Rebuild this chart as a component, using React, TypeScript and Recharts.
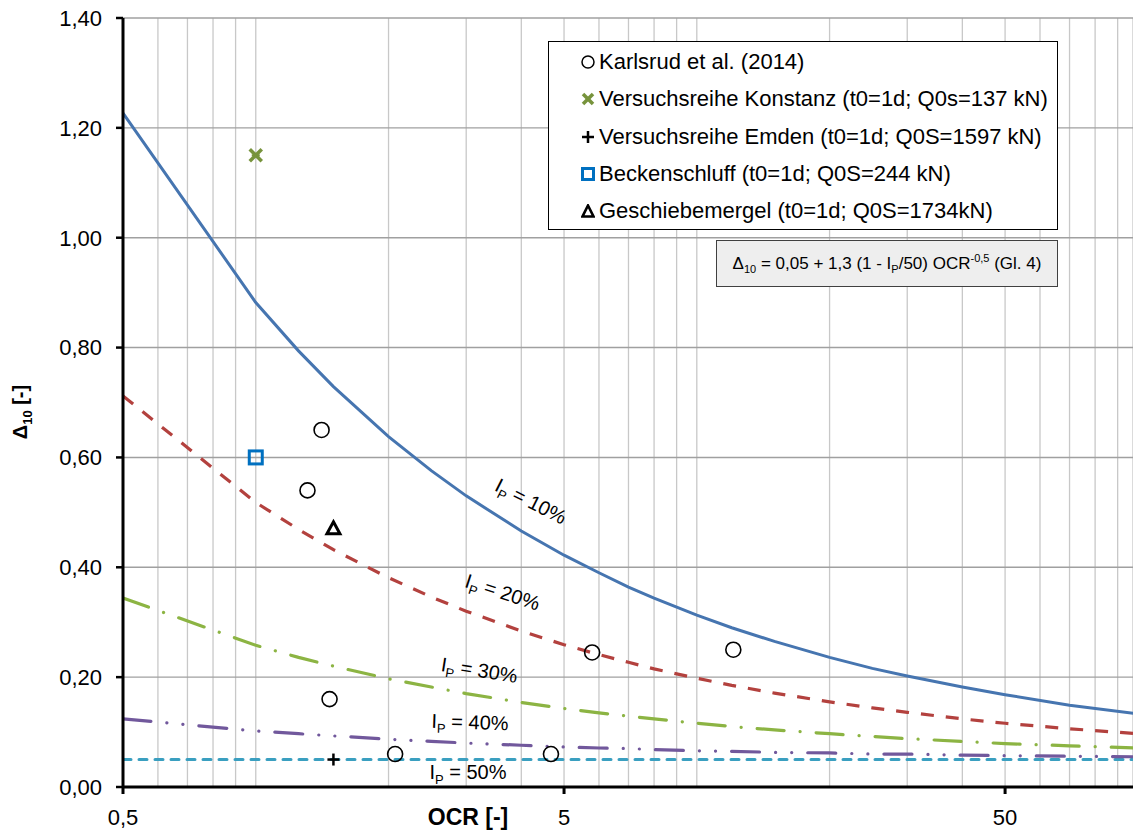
import React from "react";
import {
  ComposedChart, Line, Scatter, XAxis, YAxis, CartesianGrid,
} from "recharts";

// OCR grid points used for the model curves
const ocrPoints = [0.5, 1, 1.25, 1.5, 2, 2.5, 3, 4, 5, 6, 7, 8, 10, 12, 15, 20, 25, 30, 40, 50, 70, 100];

// Δ10, one list per plasticity index
const ip10 = [1.227, 0.882, 0.794, 0.729, 0.638, 0.576, 0.530, 0.466, 0.422, 0.390, 0.364, 0.344, 0.313, 0.290, 0.265, 0.236, 0.216, 0.202, 0.182, 0.168, 0.149, 0.133];
const ip20 = [0.712, 0.518, 0.469, 0.432, 0.381, 0.346, 0.320, 0.284, 0.259, 0.241, 0.227, 0.215, 0.198, 0.185, 0.171, 0.155, 0.144, 0.136, 0.124, 0.116, 0.106, 0.097];
const ip30 = [0.344, 0.258, 0.236, 0.220, 0.197, 0.182, 0.170, 0.154, 0.143, 0.135, 0.129, 0.124, 0.116, 0.110, 0.104, 0.097, 0.092, 0.088, 0.083, 0.079, 0.075, 0.071];
const ip40 = [0.124, 0.102, 0.097, 0.093, 0.087, 0.083, 0.080, 0.076, 0.073, 0.071, 0.070, 0.068, 0.066, 0.065, 0.063, 0.062, 0.060, 0.060, 0.058, 0.057, 0.056, 0.055];
const ip50 = [0.05, 0.05, 0.05, 0.05, 0.05, 0.05, 0.05, 0.05, 0.05, 0.05, 0.05, 0.05, 0.05, 0.05, 0.05, 0.05, 0.05, 0.05, 0.05, 0.05, 0.05, 0.05];

// measured points
const karlsrudOcr = [1.41, 1.31, 1.47, 2.07, 4.67, 5.79, 12.1];
const karlsrudVal = [0.65, 0.54, 0.16, 0.06, 0.06, 0.245, 0.25];
const konstanzOcr = [1.0];
const konstanzVal = [1.15];
const emdenOcr = [1.5];
const emdenVal = [0.05];
const beckenOcr = [1.0];
const beckenVal = [0.6];
const geschiebeOcr = [1.5];
const geschiebeVal = [0.47];

const yTicks = [0, 0.2, 0.4, 0.6, 0.8, 1.0, 1.2, 1.4];
const majorX = [0.5, 5, 50];
const xTicks = [
  0.5, 0.6, 0.7, 0.8, 0.9, 1, 2, 3, 4, 5, 6, 7, 8, 9, 10,
  20, 30, 40, 50, 60, 70, 80, 90,
];

const toRows = (xs: number[], ys: number[]) => xs.map((x, i) => ({ x, y: ys[i] }));

const FONT = "'Liberation Sans', Arial, sans-serif";

// only the decades get a tick mark and a label
const XTick = (props: any) => {
  const { x, y, payload } = props;
  if (!majorX.includes(payload.value)) return null;
  return (
    <g>
      <line x1={x} x2={x} y1={y - 16} y2={y - 9} stroke="#000" strokeWidth={3} />
      <text x={x} y={y + 22} textAnchor="middle" fontSize={22} fontFamily={FONT} fill="#000">
        {String(payload.value).replace(".", ",")}
      </text>
    </g>
  );
};

const circleShape = (p: any) => (
  <circle cx={p.cx} cy={p.cy} r={7.5} fill="none" stroke="#000" strokeWidth={1.6} />
);
const crossShape = (p: any) => (
  <g stroke="#77933c" strokeWidth={3.5}>
    <line x1={p.cx - 6} y1={p.cy - 6} x2={p.cx + 6} y2={p.cy + 6} />
    <line x1={p.cx - 6} y1={p.cy + 6} x2={p.cx + 6} y2={p.cy - 6} />
    <line x1={p.cx - 4} y1={p.cy} x2={p.cx + 4} y2={p.cy} strokeWidth={2} />
  </g>
);
const plusShape = (p: any) => (
  <g stroke="#000" strokeWidth={2.5}>
    <line x1={p.cx - 6} y1={p.cy} x2={p.cx + 6} y2={p.cy} />
    <line x1={p.cx} y1={p.cy - 6} x2={p.cx} y2={p.cy + 6} />
  </g>
);
const squareShape = (p: any) => (
  <rect x={p.cx - 6.5} y={p.cy - 6.5} width={13} height={13} fill="none" stroke="#0070c0" strokeWidth={3} />
);
const triangleShape = (p: any) => (
  <path d={`M${p.cx},${p.cy - 7} L${p.cx + 6.5},${p.cy + 5} L${p.cx - 6.5},${p.cy + 5} Z`} fill="none" stroke="#000" strokeWidth={3} />
);

const IpLabel = ({ left, top, rot, pct }: { left: number; top: number; rot: number; pct: string }) => (
  <div style={{
    position: "absolute", left, top, transform: `translate(-50%, -50%) rotate(${rot}deg)`,
    fontFamily: FONT, fontSize: 20, color: "#000", whiteSpace: "nowrap", lineHeight: 1,
  }}>
    I<sub style={{ fontSize: 13 }}>P</sub> = {pct}
  </div>
);

const legendRows = [
  { label: "Karlsrud et al. (2014)", mark: <svg width={14} height={14}><circle cx={7} cy={7} r={6} fill="none" stroke="#000" strokeWidth={1.5} /></svg> },
  { label: "Versuchsreihe Konstanz (t0=1d; Q0s=137 kN)", mark: <svg width={14} height={14}><g stroke="#77933c" strokeWidth={3.5}><line x1={2} y1={2} x2={12} y2={12} /><line x1={2} y1={12} x2={12} y2={2} /></g></svg> },
  { label: "Versuchsreihe Emden (t0=1d; Q0S=1597 kN)", mark: <svg width={14} height={14}><g stroke="#000" strokeWidth={2.5}><line x1={1} y1={7} x2={13} y2={7} /><line x1={7} y1={1} x2={7} y2={13} /></g></svg> },
  { label: "Beckenschluff (t0=1d; Q0S=244 kN)", mark: <svg width={14} height={14}><rect x={1.5} y={1.5} width={11} height={11} fill="none" stroke="#0070c0" strokeWidth={3} /></svg> },
  { label: "Geschiebemergel (t0=1d; Q0S=1734kN)", mark: <svg width={14} height={14}><path d="M7,1.5 L12.5,12.5 L1.5,12.5 Z" fill="none" stroke="#000" strokeWidth={2.6} /></svg> },
];

export default function App() {
  return (
    <div style={{ position: "absolute", left: 0, top: 0, width: 1133, height: 832, background: "#fff", overflow: "hidden" }}>
      <ComposedChart width={1133} height={832} margin={{ top: 18, right: 0, bottom: 0, left: 0 }}>
        <CartesianGrid horizontal={false} stroke="#c8c8c8" strokeWidth={1.3} />
        <CartesianGrid vertical={false} stroke="#a0a0a0" strokeWidth={1.4} />
        <XAxis
          dataKey="x" type="number" scale="log" domain={[0.5, 97.5]} allowDataOverflow
          ticks={xTicks} interval={0} height={45} tickLine={false} tickSize={8} tickMargin={8}
          axisLine={{ stroke: "#000", strokeWidth: 3 }} tick={<XTick />}
        />
        <YAxis
          dataKey="y" type="number" domain={[0, 1.4]} ticks={yTicks} width={123} interval={0}
          tickSize={7} tickMargin={14}
          tickLine={{ stroke: "#000", strokeWidth: 2.5 }}
          axisLine={{ stroke: "#000", strokeWidth: 3 }}
          tick={{ fontSize: 22, fontFamily: FONT, fill: "#000" }}
          tickFormatter={(v: number) => v.toFixed(2).replace(".", ",")}
        />
        <Line data={toRows(ocrPoints, ip50)} dataKey="y" stroke="#3a9fc0" strokeWidth={3} strokeDasharray="8 8" strokeLinecap="round" dot={false} isAnimationActive={false} />
        <Line data={toRows(ocrPoints, ip40)} dataKey="y" stroke="#71589c" strokeWidth={3.2} strokeDasharray="28 16 0.1 16 0.1 16" strokeLinecap="round" dot={false} isAnimationActive={false} />
        <Line data={toRows(ocrPoints, ip30)} dataKey="y" stroke="#8cb443" strokeWidth={3.2} strokeDasharray="27 16 0.1 16" strokeLinecap="round" dot={false} isAnimationActive={false} />
        <Line data={toRows(ocrPoints, ip20)} dataKey="y" stroke="#b3413e" strokeWidth={3.2} strokeDasharray="13 12" dot={false} isAnimationActive={false} />
        <Line data={toRows(ocrPoints, ip10)} dataKey="y" stroke="#4675b0" strokeWidth={3} dot={false} isAnimationActive={false} />
        <Scatter data={toRows(karlsrudOcr, karlsrudVal)} dataKey="y" shape={circleShape} isAnimationActive={false} />
        <Scatter data={toRows(konstanzOcr, konstanzVal)} dataKey="y" shape={crossShape} isAnimationActive={false} />
        <Scatter data={toRows(emdenOcr, emdenVal)} dataKey="y" shape={plusShape} isAnimationActive={false} />
        <Scatter data={toRows(beckenOcr, beckenVal)} dataKey="y" shape={squareShape} isAnimationActive={false} />
        <Scatter data={toRows(geschiebeOcr, geschiebeVal)} dataKey="y" shape={triangleShape} isAnimationActive={false} />
      </ComposedChart>

      {/* axis titles */}
      <div style={{ position: "absolute", left: 22, top: 412, transform: "translate(-50%, -50%) rotate(-90deg)", fontFamily: FONT, fontSize: 20, fontWeight: 700, whiteSpace: "nowrap", lineHeight: 1 }}>
        Δ<sub style={{ fontSize: 13 }}>10</sub> [-]
      </div>
      <div style={{ position: "absolute", left: 468, top: 817, transform: "translate(-50%, -50%)", fontFamily: FONT, fontSize: 23, fontWeight: 700, whiteSpace: "nowrap", lineHeight: 1 }}>
        OCR [-]
      </div>

      {/* curve labels */}
      <IpLabel left={530} top={503} rot={27} pct="10%" />
      <IpLabel left={502} top={594} rot={18} pct="20%" />
      <IpLabel left={479} top={672} rot={9} pct="30%" />
      <IpLabel left={470} top={724} rot={2} pct="40%" />
      <IpLabel left={468} top={774} rot={0} pct="50%" />

      {/* legend */}
      <div style={{ position: "absolute", left: 548, top: 41, width: 508, height: 187, background: "#fff", border: "1px solid #000", fontFamily: FONT, fontSize: 22, color: "#000" }}>
        {legendRows.map((r, i) => (
          <div key={i} style={{ position: "absolute", left: 32, top: 6 + i * 37.3, display: "flex", alignItems: "center", gap: 4, whiteSpace: "nowrap", height: 28 }}>
            {r.mark}
            <span>{r.label}</span>
          </div>
        ))}
      </div>

      {/* formula box */}
      <div style={{ position: "absolute", left: 716, top: 240, width: 340, height: 45, background: "#eeeeee", border: "1px solid #404040", fontFamily: FONT, fontSize: 17, color: "#000", display: "flex", alignItems: "center", justifyContent: "center", whiteSpace: "nowrap" }}>
        <span>Δ<sub style={{ fontSize: 11 }}>10</sub> = 0,05 + 1,3 (1 - I<sub style={{ fontSize: 11 }}>P</sub>/50) OCR<sup style={{ fontSize: 11 }}>-0,5</sup> (Gl. 4)</span>
      </div>
    </div>
  );
}
